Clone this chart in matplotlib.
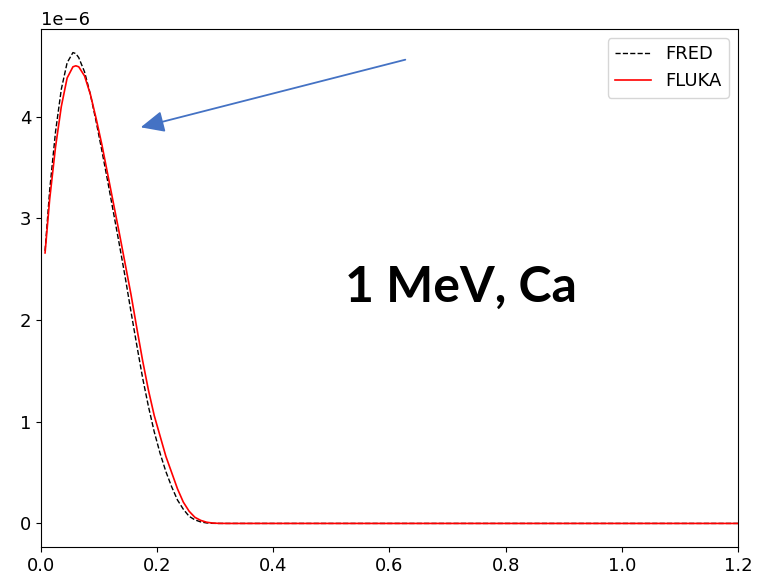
import matplotlib
matplotlib.use("Agg")
import matplotlib.pyplot as plt

# posiciones (x) y valores de las dos curvas (en unidades de 1e-6)
x_vals = [0.007, 0.015, 0.025, 0.035, 0.045, 0.055, 0.060, 0.065, 0.075, 0.085,
          0.095, 0.105, 0.115, 0.125, 0.135, 0.145, 0.155, 0.165, 0.175, 0.185,
          0.195, 0.205, 0.215, 0.225, 0.235, 0.245, 0.255, 0.265, 0.275, 0.285,
          0.295, 0.305, 0.320, 0.400, 0.600, 0.800, 1.000, 1.200]

fred = [2.68, 3.28, 3.85, 4.27, 4.53, 4.63, 4.62, 4.58, 4.44, 4.22,
        3.95, 3.66, 3.36, 3.05, 2.74, 2.42, 2.08, 1.75, 1.43, 1.15,
        0.90, 0.69, 0.51, 0.36, 0.23, 0.14, 0.07, 0.035, 0.015, 0.005,
        0.001, 0.0, 0.0, 0.0, 0.0, 0.0, 0.0, 0.0]

fluka = [2.66, 3.19, 3.70, 4.10, 4.38, 4.49, 4.50, 4.49, 4.40, 4.22,
         3.98, 3.72, 3.43, 3.14, 2.85, 2.55, 2.25, 1.92, 1.60, 1.31,
         1.06, 0.86, 0.66, 0.50, 0.34, 0.21, 0.12, 0.06, 0.03, 0.012,
         0.004, 0.001, 0.0, 0.0, 0.0, 0.0, 0.0, 0.0]

escala = 1e-6
fred_y = [v * escala for v in fred]
fluka_y = [v * escala for v in fluka]

plt.rcParams["font.size"] = 13

fig = plt.figure(figsize=(7.69, 5.84), dpi=100)
ax = fig.add_axes([0.0533, 0.0634, 0.9064, 0.8869])

ax.plot(x_vals, fred_y, "k--", lw=1.0, label="FRED")
ax.plot(x_vals, fluka_y, color="red", lw=1.2, label="FLUKA")

ax.set_xlim(0, 1.2)
ax.legend(loc="upper right")

# anotaciones superpuestas (texto y flecha)
fig.text(0.6, 0.508, "1 MeV, Ca", fontsize=36, fontweight="bold",
         family="Lato", ha="center", va="center")
ax.annotate("", xy=(138 / 769, 1 - 128 / 584), xycoords="figure fraction",
            xytext=(408 / 769, 1 - 59 / 584), textcoords="figure fraction",
            arrowprops=dict(arrowstyle="-|>,head_length=1.1,head_width=0.5",
                            color="#4472C4", lw=1.3))

fig.savefig("out.png", dpi=100)
